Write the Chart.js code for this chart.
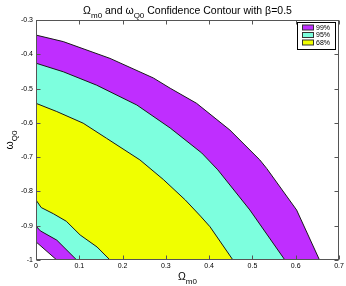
<!DOCTYPE html>
<html>
<head>
<meta charset="utf-8">
<script src="https://cdn.jsdelivr.net/npm/chart.js@4"></script>
<style>
  html, body { margin: 0; padding: 0; background: #fff; }
</style>
</head>
<body>
<canvas id="contourChart" width="346" height="286"></canvas>
<script>
// tick values
const xTicks = [0, 0.1, 0.2, 0.3, 0.4, 0.5, 0.6, 0.7];
const yTicks = [-1, -0.9, -0.8, -0.7, -0.6, -0.5, -0.4, -0.3];

// legend
const levelLabels = ["99%", "95%", "68%"];
const purple = "#BF2EFF";
const cyan = "#7DFFDE";
const yellow = "#F0FF00";

// contour lines (Omega_m0, omega_Q0)
const outer99X = [0, 0.063, 0.171, 0.271, 0.31, 0.371, 0.448, 0.517, 0.533, 0.602, 0.655];
const outer99Y = [-0.344, -0.363, -0.412, -0.469, -0.499, -0.543, -0.621, -0.708, -0.733, -0.854, -1];

const outer95X = [0, 0.063, 0.14, 0.233, 0.31, 0.383, 0.42, 0.494, 0.575];
const outer95Y = [-0.426, -0.451, -0.49, -0.548, -0.615, -0.688, -0.737, -0.854, -1];

const outer68X = [0, 0.048, 0.109, 0.163, 0.24, 0.294, 0.345, 0.38, 0.402, 0.455];
const outer68Y = [-0.543, -0.567, -0.601, -0.645, -0.708, -0.765, -0.825, -0.872, -0.903, -1];

const inner68X = [0, 0.012, 0.04, 0.07, 0.102, 0.141, 0.171];
const inner68Y = [-0.825, -0.847, -0.865, -0.887, -0.927, -0.962, -1];

const inner95X = [0, 0.01, 0.048, 0.094];
const inner95Y = [-0.901, -0.915, -0.942, -1];

const inner99X = [0, 0.048];
const inner99Y = [-0.947, -1];

const pts = (xs, ys) => xs.map((v, i) => ({ x: v, y: ys[i] }));

// each curve is filled down to the bottom, later ones paint over earlier ones
const layer = (xs, ys, color, order) => ({
  data: pts(xs, ys),
  showLine: true,
  borderColor: "#1a1a1a",
  borderWidth: 1,
  backgroundColor: color,
  fill: "start",
  pointRadius: 0,
  order: order,
});

function drawRich(ctx, parts, x, y, size, align) {
  const subSize = Math.round(size * 0.75);
  let w = 0;
  parts.forEach(p => {
    ctx.font = (p[1] ? subSize : size) + "px 'Liberation Sans', Arial, sans-serif";
    w += ctx.measureText(p[0]).width;
  });
  let cx = align === "center" ? x - w / 2 : x;
  ctx.textAlign = "left";
  ctx.textBaseline = "alphabetic";
  parts.forEach(p => {
    ctx.font = (p[1] ? subSize : size) + "px 'Liberation Sans', Arial, sans-serif";
    ctx.fillText(p[0], cx, p[1] ? y + size * 0.35 : y);
    cx += ctx.measureText(p[0]).width;
  });
}

const decor = {
  id: "decor",
  afterDatasetsDraw(chart) {
    const { ctx, chartArea: a, scales } = chart;
    const L = Math.round(a.left) + 0.5, R = Math.round(a.right) - 0.5;
    const T = Math.round(a.top) + 0.5, B = Math.round(a.bottom) - 0.5;
    ctx.save();
    ctx.strokeStyle = "#555";
    ctx.lineWidth = 1;
    ctx.strokeRect(L, T, R - L, B - T);
    ctx.beginPath();
    xTicks.forEach(v => {
      const px = Math.round(scales.x.getPixelForValue(v)) + 0.5;
      ctx.moveTo(px, B); ctx.lineTo(px, B - 4);
      ctx.moveTo(px, T); ctx.lineTo(px, T + 4);
    });
    yTicks.forEach(v => {
      const py = Math.round(scales.y.getPixelForValue(v)) + 0.5;
      ctx.moveTo(L, py); ctx.lineTo(L + 4, py);
      ctx.moveTo(R, py); ctx.lineTo(R - 4, py);
    });
    ctx.stroke();

    // legend box
    const colors = [purple, cyan, yellow];
    const bx = 297.5, by = 22.5, bw = 38, bh = 27;
    ctx.fillStyle = "#fff";
    ctx.fillRect(bx, by, bw, bh);
    ctx.strokeStyle = "#000";
    ctx.strokeRect(bx, by, bw, bh);
    levelLabels.forEach((lab, i) => {
      const sy = by + 2.5 + i * 7.5;
      ctx.fillStyle = colors[i];
      ctx.fillRect(bx + 5, sy, 11, 5);
      ctx.strokeStyle = "#333";
      ctx.strokeRect(bx + 5, sy, 11, 5);
      ctx.fillStyle = "#000";
      ctx.font = "7px 'Liberation Sans', Arial, sans-serif";
      ctx.textBaseline = "middle";
      ctx.textAlign = "left";
      ctx.fillText(lab, bx + 18.5, sy + 3);
    });

    // titles
    ctx.fillStyle = "#000";
    const cx = (a.left + a.right) / 2;
    drawRich(ctx, [["\u03A9", false], ["m0", true], [" and \u03C9", false], ["Q0", true],
      [" Confidence Contour with \u03B2=0.5", false]], cx, 14, 10.5, "center");
    drawRich(ctx, [["\u03A9", false], ["m0", true]], cx, 280, 10.5, "center");
    ctx.translate(13, (a.top + a.bottom) / 2);
    ctx.rotate(-Math.PI / 2);
    drawRich(ctx, [["\u03C9", false], ["Q0", true]], 0, 0, 10.5, "center");
    ctx.restore();
  }
};

const tickFont = { family: "'Liberation Sans', Arial, sans-serif", size: 7 };

new Chart(document.getElementById("contourChart"), {
  type: "scatter",
  data: {
    datasets: [
      layer(outer99X, outer99Y, purple, 6),
      layer(outer95X, outer95Y, cyan, 5),
      layer(outer68X, outer68Y, yellow, 4),
      layer(inner68X, inner68Y, cyan, 3),
      layer(inner95X, inner95Y, purple, 2),
      layer(inner99X, inner99Y, "#ffffff", 1),
    ],
  },
  options: {
    responsive: false,
    animation: false,
    layout: { padding: { top: 20, right: 7, left: 0, bottom: 0 } },
    plugins: { legend: { display: false }, tooltip: { enabled: false } },
    scales: {
      x: {
        type: "linear",
        min: 0,
        max: 0.7,
        grid: { display: false, drawTicks: false },
        border: { display: false },
        afterBuildTicks: s => { s.ticks = xTicks.map(v => ({ value: v })); },
        afterFit: s => { s.height = 26; },
        ticks: { font: tickFont, color: "#000", padding: 2, maxRotation: 0, callback: v => String(v) },
      },
      y: {
        type: "linear",
        min: -1,
        max: -0.3,
        grid: { display: false, drawTicks: false },
        border: { display: false },
        afterBuildTicks: s => { s.ticks = yTicks.map(v => ({ value: v })); },
        afterFit: s => { s.width = 36; },
        ticks: { font: tickFont, color: "#000", padding: 3, callback: v => String(v) },
      },
    },
  },
  plugins: [decor],
});
</script>
</body>
</html>
